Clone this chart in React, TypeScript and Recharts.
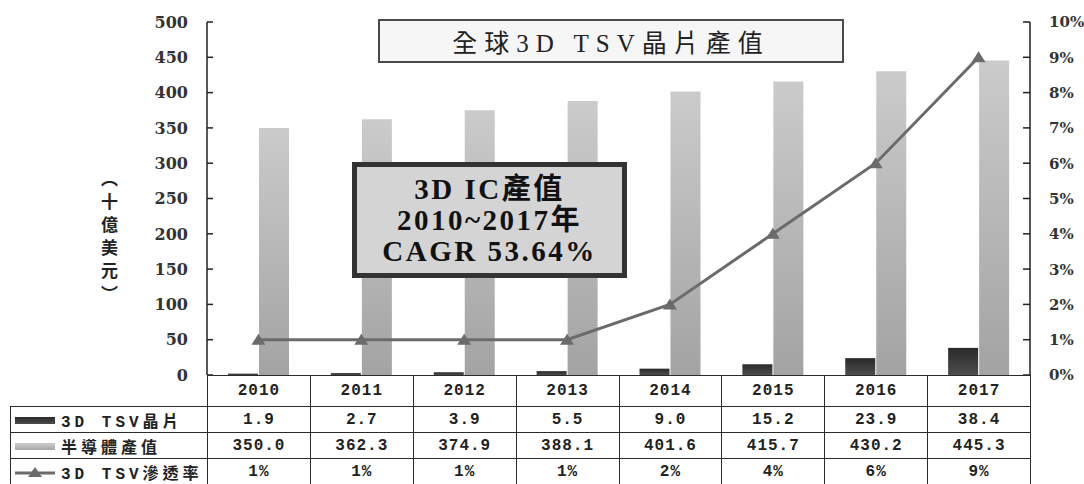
import React from 'react';
import { ComposedChart, Bar, Line, XAxis, YAxis } from 'recharts';

// values
const years = ['2010', '2011', '2012', '2013', '2014', '2015', '2016', '2017'];
const tsvValues = [1.9, 2.7, 3.9, 5.5, 9.0, 15.2, 23.9, 38.4];
const semiValues = [350.0, 362.3, 374.9, 388.1, 401.6, 415.7, 430.2, 445.3];
const penetration = [1, 1, 1, 1, 2, 4, 6, 9];
const leftTicks = [0, 50, 100, 150, 200, 250, 300, 350, 400, 450, 500];
const rightTicks = [0, 1, 2, 3, 4, 5, 6, 7, 8, 9, 10];

const chartData = years.map((year, i) => ({
  year,
  tsv: tsvValues[i],
  semi: semiValues[i],
  pct: penetration[i],
}));

const AXIS = '#222';
const LINE = '#6b6b6b';
const tickFont = "'DejaVu Serif', 'Liberation Serif', serif";
const tableFont = "'Liberation Mono', 'Noto Sans CJK TC', monospace";

const LeftTick = (props: any) => {
  const { x, y, payload } = props;
  return (
    <g>
      <line x1={x} x2={x + 6} y1={y} y2={y} stroke={AXIS} strokeWidth={1.5} />
      <text x={x - 19} y={y} dy="0.36em" textAnchor="end" fontFamily={tickFont} fontWeight="bold" fontSize={16} fill="#333">
        {payload.value}
      </text>
    </g>
  );
};

const RightTick = (props: any) => {
  const { x, y, payload } = props;
  return (
    <g>
      <line x1={x - 7} x2={x} y1={y} y2={y} stroke={AXIS} strokeWidth={1.5} />
      <text x={x + 19} y={y} dy="0.36em" textAnchor="start" fontFamily={tickFont} fontWeight="bold" fontSize={15} fill="#333">
        {payload.value}%
      </text>
    </g>
  );
};

const Triangle = (props: any) => {
  const { cx, cy, index } = props;
  if (cx == null || cy == null) return <g key={`t-${index}`} />;
  return <path key={`t-${index}`} d={`M${cx},${cy - 6} L${cx + 7},${cy + 5} L${cx - 7},${cy + 5} Z`} fill={LINE} />;
};

const cell: React.CSSProperties = {
  border: '1.5px solid #2b2b2b',
  textAlign: 'center',
  padding: 0,
  fontFamily: tableFont,
  fontWeight: 'bold',
  fontSize: 16,
  letterSpacing: 1,
  color: '#222',
  whiteSpace: 'nowrap',
};

function Swatch({ kind }: { kind: 'dark' | 'light' | 'line' }) {
  return (
    <svg width={40} height={12} style={{ display: 'block' }}>
      <defs>
        <linearGradient id={`sw-${kind}`} x1="0" y1="0" x2="0" y2="1">
          <stop offset="0%" stopColor={kind === 'dark' ? '#2a2a2a' : '#cdcdcd'} />
          <stop offset="100%" stopColor={kind === 'dark' ? '#4a4a4a' : '#a8a8a8'} />
        </linearGradient>
      </defs>
      {kind === 'line' ? (
        <g>
          <line x1={0} x2={40} y1={7} y2={7} stroke={LINE} strokeWidth={3} />
          <path d="M20,1 L27,11 L13,11 Z" fill={LINE} />
        </g>
      ) : (
        <rect x={0} y={3} width={40} height={7} fill={`url(#sw-${kind})`} />
      )}
    </svg>
  );
}

function LabelCell({ kind, text }: { kind: 'dark' | 'light' | 'line'; text: string }) {
  return (
    <td style={{ ...cell, textAlign: 'left', paddingLeft: 4 }}>
      <div style={{ display: 'flex', alignItems: 'center' }}>
        <Swatch kind={kind} />
        <span style={{ marginLeft: 6, letterSpacing: 4 }}>{text}</span>
      </div>
    </td>
  );
}

export default function App() {
  const colW = (1030 - 207) / years.length;
  return (
    <div style={{ position: 'absolute', left: 0, top: 0, width: 1084, height: 484, background: '#fff', overflow: 'hidden' }}>
      <ComposedChart width={1084} height={484} data={chartData} margin={{ top: 22, right: 0, left: 0, bottom: 109 }} barSize={30} barGap={1}>
        <defs>
          <linearGradient id="gradDark" x1="0" y1="0" x2="0" y2="1">
            <stop offset="0%" stopColor="#2a2a2a" />
            <stop offset="100%" stopColor="#4d4d4d" />
          </linearGradient>
          <linearGradient id="gradLight" x1="0" y1="0" x2="0" y2="1">
            <stop offset="0%" stopColor="#cbcbcb" />
            <stop offset="100%" stopColor="#a3a3a3" />
          </linearGradient>
        </defs>
        <XAxis dataKey="year" hide />
        <YAxis
          yAxisId="left"
          width={207}
          domain={[0, 500]}
          ticks={leftTicks}
          interval={0}
          tickSize={0}
          tickMargin={0}
          tick={<LeftTick />}
          axisLine={{ stroke: AXIS, strokeWidth: 1.5 }}
          tickLine={false}
        />
        <YAxis
          yAxisId="right"
          orientation="right"
          width={54}
          domain={[0, 10]}
          ticks={rightTicks}
          interval={0}
          tickSize={0}
          tickMargin={0}
          tick={<RightTick />}
          axisLine={{ stroke: AXIS, strokeWidth: 1.5 }}
          tickLine={false}
        />
        <Bar yAxisId="left" dataKey="tsv" fill="url(#gradDark)" isAnimationActive={false} />
        <Bar yAxisId="left" dataKey="semi" fill="url(#gradLight)" isAnimationActive={false} />
        <Line
          yAxisId="right"
          dataKey="pct"
          type="linear"
          stroke={LINE}
          strokeWidth={3}
          dot={<Triangle />}
          activeDot={false}
          isAnimationActive={false}
        />
      </ComposedChart>

      {/* y axis unit */}
      <div
        style={{
          position: 'absolute',
          left: 97,
          top: 170,
          writingMode: 'vertical-rl',
          fontFamily: "'Noto Sans CJK TC', sans-serif",
          fontWeight: 'bold',
          fontSize: 17,
          letterSpacing: 6,
          color: '#222',
        }}
      >
        （十億美元）
      </div>

      {/* title */}
      <div
        style={{
          position: 'absolute',
          left: 378,
          top: 19,
          width: 462,
          height: 40,
          border: '2px solid #4a4a4a',
          background: '#f6f6f6',
          display: 'flex',
          alignItems: 'center',
          justifyContent: 'center',
          fontFamily: "'Liberation Serif', 'Noto Sans CJK TC', serif",
          fontSize: 25,
          letterSpacing: 7,
          color: '#222',
        }}
      >
        全球3D TSV晶片產值
      </div>

      {/* CAGR note */}
      <div
        style={{
          position: 'absolute',
          left: 352,
          top: 162,
          width: 265,
          height: 106,
          border: '5px solid #333',
          background: '#d4d4d4',
          display: 'flex',
          flexDirection: 'column',
          alignItems: 'center',
          justifyContent: 'center',
          fontFamily: "'Liberation Serif', 'Noto Sans CJK TC', serif",
          fontWeight: 'bold',
          fontSize: 29,
          lineHeight: '31px',
          letterSpacing: 2.5,
          color: '#111',
        }}
      >
        <div>3D IC產值</div>
        <div>2010~2017年</div>
        <div>CAGR 53.64%</div>
      </div>

      {/* data table */}
      <table
        style={{
          position: 'absolute',
          left: 10,
          top: 375,
          borderCollapse: 'collapse',
          tableLayout: 'fixed',
          width: 1020,
        }}
      >
        <colgroup>
          <col style={{ width: 197 }} />
          {years.map((y) => (
            <col key={y} style={{ width: colW }} />
          ))}
        </colgroup>
        <tbody>
          <tr style={{ height: 31 }}>
            <td style={{ ...cell, borderTop: 'none', borderLeft: 'none' }} />
            {years.map((y) => (
              <td key={y} style={cell}>{y}</td>
            ))}
          </tr>
          <tr style={{ height: 26 }}>
            <LabelCell kind="dark" text="3D TSV晶片" />
            {tsvValues.map((v, i) => (
              <td key={i} style={cell}>{v.toFixed(1)}</td>
            ))}
          </tr>
          <tr style={{ height: 26 }}>
            <LabelCell kind="light" text="半導體產值" />
            {semiValues.map((v, i) => (
              <td key={i} style={cell}>{v.toFixed(1)}</td>
            ))}
          </tr>
          <tr style={{ height: 26 }}>
            <LabelCell kind="line" text="3D TSV滲透率" />
            {penetration.map((v, i) => (
              <td key={i} style={cell}>{v}%</td>
            ))}
          </tr>
        </tbody>
      </table>
    </div>
  );
}
